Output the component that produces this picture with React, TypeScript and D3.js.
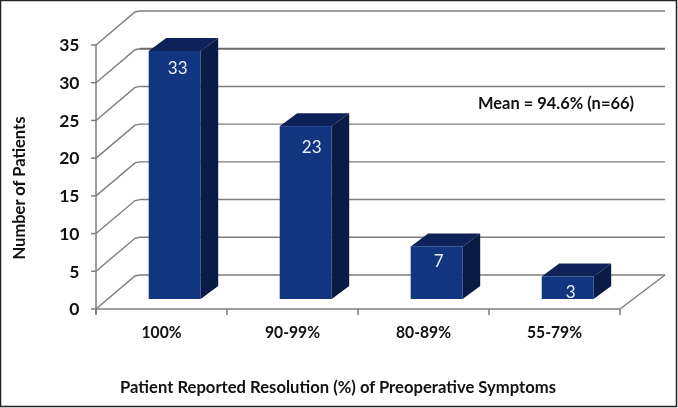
import React from "react";
import * as d3 from "d3";

const categories = ["100%", "90-99%", "80-89%", "55-79%"];
const patients = [33, 23, 7, 3];
const yTicks = [0, 5, 10, 15, 20, 25, 30, 35];
const title = "Patient Reported Resolution (%) of Preoperative Symptoms";
const yTitle = "Number of Patients";
const note = "Mean = 94.6% (n=66)";

const W = 678, H = 408;
const FONT = "Lato, Carlito, sans-serif";
const GRID = "#7d7d7d";
const FRONT = "#12357f", SIDE = "#0a1c45", TOP = "#0e2259";

const labelNudge = [[3, 17], [6, 21], [2, 14], [3, 15]];
const catWidths = [40, 55, 55, 55];

export default function App() {
  const x = d3.scaleBand<string>().domain(categories).range([96, 620]);
  const y = d3.scaleLinear().domain([0, 35]).range([309, 45]);
  const h = d3.scaleLinear().domain([0, 33]).range([299, 51]);
  const depthX = 44, depthY = -34;
  const barOffset = 52.7, barW = 52, bdx = 17.5, bdy = -13;
  const x0 = x.range()[0], x1 = x.range()[1];

  return (
    <svg width={W} height={H} viewBox={`0 0 ${W} ${H}`}
      style={{ position: "fixed", left: 0, top: 0, display: "block", background: "#fff", fontFamily: FONT, filter: "blur(0.35px)" }}>
      <rect x={0.5} y={0.5} width={676} height={406} fill="#fff" stroke="#222" strokeWidth={1.5} />

      {yTicks.map((t) => (
        <g key={t} fill="none" stroke={GRID}>
          <path d={`M${x0},${y(t)}L${x0 + depthX - 5},${y(t) + depthY + 1}L${x0 + depthX},${y(t) + depthY}`} strokeWidth={1.4} />
          <line x1={x0 + depthX} x2={x1 + depthX + 1} y1={y(t) + depthY} y2={y(t) + depthY}
            strokeWidth={t === 30 ? 2 : 1.4} stroke={t === 30 ? "#6a6a6a" : GRID} />
        </g>
      ))}
      <line x1={x1} y1={y(0)} x2={x1 + depthX + 1} y2={y(0) + depthY} stroke={GRID} strokeWidth={1.4} />

      <g stroke={GRID} strokeWidth={1.5} fill="none">
        <line x1={x0} x2={x0} y1={y(35)} y2={y(0) + 5} />
        <line x1={x0} x2={x1} y1={y(0)} y2={y(0)} />
        {yTicks.map((t) => <line key={t} x1={x0 - 5} x2={x0} y1={y(t)} y2={y(t)} />)}
        {[...categories.map((c) => x(c)!), x1].map((px) => (
          <line key={px} x1={px} x2={px} y1={y(0)} y2={y(0) + 6} />
        ))}
      </g>

      {yTicks.map((t) => (
        <text key={t} x={79.5} y={y(t)} dy="0.36em" textAnchor="end" fontSize={17.5} fontWeight={700} fill="#111">{t}</text>
      ))}

      {categories.map((c, i) => {
        const left = x(c)! + barOffset;
        const top = h(patients[i]);
        const r = left + barW;
        const base = h(0);
        const cw = catWidths[i];
        const cx = x(c)! + x.bandwidth() / 2;
        return (
          <g key={c}>
            <path d={`M${left},${top}L${left + bdx},${top + bdy}L${r + bdx},${top + bdy}L${r},${top}Z`} fill={TOP} />
            <path d={`M${r},${top}L${r + bdx},${top + bdy}L${r + bdx},${base + bdy}L${r},${base}Z`} fill={SIDE} />
            <rect x={left} y={top} width={barW} height={base - top} fill={FRONT} />
            <text x={left + barW / 2 + labelNudge[i][0]} y={top + labelNudge[i][1]} dy="0.36em"
              textAnchor="middle" fontSize={17} fontWeight={400} fill="#e6f0f8">{patients[i]}</text>
            <text x={cx - cw / 2} y={338} fontSize={17} fontWeight={700} fill="#111"
              textLength={cw} lengthAdjust="spacingAndGlyphs">{c}</text>
          </g>
        );
      })}

      <text x={120} y={393} fontSize={17} fontWeight={700} fill="#111" textLength={436} lengthAdjust="spacingAndGlyphs">{title}</text>
      <text transform="translate(25,259.5) rotate(-90)" fontSize={17} fontWeight={700} fill="#111" textLength={143} lengthAdjust="spacingAndGlyphs">{yTitle}</text>
      <text x={478} y={109} fontSize={17} fontWeight={700} fill="#111" textLength={156} lengthAdjust="spacingAndGlyphs">{note}</text>
    </svg>
  );
}
